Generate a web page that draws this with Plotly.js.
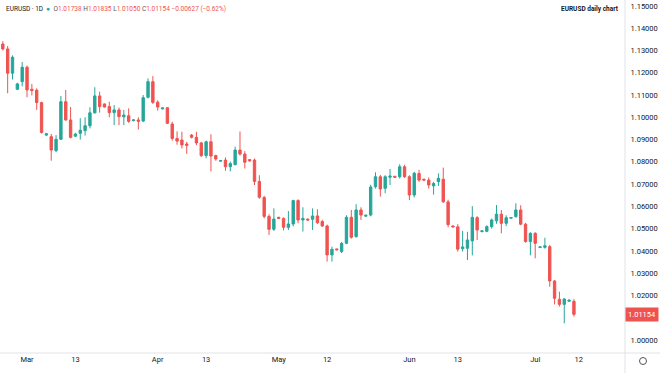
<!DOCTYPE html>
<html>
<head>
<meta charset="utf-8">
<script src="https://cdn.plot.ly/plotly-3.0.1.min.js"></script>
<style>
html,body{margin:0;padding:0;background:#fff;}
#chart{width:660px;height:373px;}
</style>
</head>
<body>
<div id="chart"></div>
<script>
const dates = ["2022-02-23","2022-02-24","2022-02-25","2022-02-27","2022-02-28",
"2022-03-01","2022-03-02","2022-03-03","2022-03-04","2022-03-06","2022-03-07","2022-03-08","2022-03-09","2022-03-10","2022-03-11",
"2022-03-13","2022-03-14","2022-03-15","2022-03-16","2022-03-17","2022-03-18","2022-03-20","2022-03-21","2022-03-22","2022-03-23",
"2022-03-24","2022-03-25","2022-03-27","2022-03-28","2022-03-29","2022-03-30","2022-03-31","2022-04-01","2022-04-03","2022-04-04",
"2022-04-05","2022-04-06","2022-04-07","2022-04-08","2022-04-10","2022-04-11","2022-04-12","2022-04-13","2022-04-14","2022-04-15",
"2022-04-17","2022-04-18","2022-04-19","2022-04-20","2022-04-21","2022-04-22","2022-04-24","2022-04-25","2022-04-26","2022-04-27",
"2022-04-28","2022-04-29","2022-05-01","2022-05-02","2022-05-03","2022-05-04","2022-05-05","2022-05-06","2022-05-08","2022-05-09",
"2022-05-10","2022-05-11","2022-05-12","2022-05-13","2022-05-15","2022-05-16","2022-05-17","2022-05-18","2022-05-19","2022-05-20",
"2022-05-22","2022-05-23","2022-05-24","2022-05-25","2022-05-26","2022-05-27","2022-05-29","2022-05-30","2022-05-31","2022-06-01",
"2022-06-02","2022-06-03","2022-06-05","2022-06-06","2022-06-07","2022-06-08","2022-06-09","2022-06-10","2022-06-12","2022-06-13",
"2022-06-14","2022-06-15","2022-06-16","2022-06-17","2022-06-19","2022-06-20","2022-06-21","2022-06-22","2022-06-23","2022-06-24",
"2022-06-26","2022-06-27","2022-06-28","2022-06-29","2022-06-30","2022-07-01","2022-07-03","2022-07-04","2022-07-05","2022-07-06",
"2022-07-07","2022-07-08","2022-07-10","2022-07-11"];

const open = [1.1329,1.1307,1.1198,1.1126,1.1160,
1.1225,1.1126,1.1122,1.1066,1.0920,1.0913,1.0850,1.0901,1.1070,1.0988,
1.0915,1.0928,1.0940,1.0962,1.1020,1.1096,1.1060,1.1048,1.1021,1.1033,
1.1002,1.1007,1.0985,1.0988,1.0983,1.1090,1.1160,1.1068,1.1038,1.1043,
1.0970,1.0905,1.0898,1.0880,1.0920,1.0910,1.0885,1.0828,1.0890,1.0828,
1.0803,1.0808,1.0778,1.0787,1.0853,1.0835,1.0810,1.0808,1.0712,1.0640,
1.0555,1.0497,1.0551,1.0546,1.0506,1.0521,1.0626,1.0539,1.0543,1.0542,
1.0557,1.0532,1.0512,1.0382,1.0409,1.0397,1.0434,1.0551,1.0464,1.0584,
1.0556,1.0561,1.0688,1.0733,1.0681,1.0731,1.0735,1.0733,1.0778,1.0733,
1.0651,1.0748,1.0722,1.0718,1.0692,1.0711,1.0722,1.0620,1.0512,1.0508,
1.0410,1.0412,1.0445,1.0549,1.0487,1.0488,1.0509,1.0535,1.0565,1.0524,
1.0547,1.0554,1.0584,1.0520,1.0442,1.0479,1.0415,1.0416,1.0419,1.0265,
1.0183,1.0160,1.0174,1.01738];

const high = [1.1342,1.1320,1.1278,1.1155,1.1248,
1.1232,1.1150,1.1130,1.1070,1.0930,1.0925,1.0920,1.1096,1.1123,1.1046,
1.0930,1.0996,1.1000,1.1045,1.1135,1.1115,1.1062,1.1070,1.1055,1.1044,
1.1033,1.1040,1.0992,1.1000,1.1100,1.1175,1.1185,1.1076,1.1045,1.1045,
1.0980,1.0937,1.0935,1.0890,1.0925,1.0935,1.0890,1.0895,1.0924,1.0832,
1.0808,1.0820,1.0801,1.0868,1.0936,1.0848,1.0812,1.0815,1.0740,1.0648,
1.0565,1.0591,1.0553,1.0550,1.0579,1.0630,1.0632,1.0596,1.0545,1.0591,
1.0587,1.0540,1.0518,1.0419,1.0410,1.0440,1.0560,1.0584,1.0610,1.0596,
1.0562,1.0697,1.0753,1.0741,1.0740,1.0768,1.0737,1.0789,1.0787,1.0740,
1.0755,1.0764,1.0724,1.0730,1.0710,1.0748,1.0774,1.0630,1.0515,1.0520,
1.0490,1.0486,1.0601,1.0556,1.0492,1.0515,1.0545,1.0606,1.0584,1.0560,
1.0552,1.0614,1.0605,1.0526,1.0484,1.0484,1.0420,1.0459,1.0427,1.0269,
1.0217,1.0188,1.0181,1.01835];

const low = [1.1300,1.1108,1.1170,1.1122,1.1139,
1.1090,1.1098,1.1033,1.0927,1.0915,1.0805,1.0843,1.0898,1.0985,1.0905,
1.0912,1.0900,1.0918,1.0950,1.1017,1.1021,1.1044,1.1000,1.0965,1.0965,
1.0965,1.0975,1.0982,1.0945,1.0978,1.1085,1.1060,1.1030,1.1035,1.0970,
1.0895,1.0877,1.0860,1.0836,1.0905,1.0875,1.0822,1.0816,1.0757,1.0805,
1.0800,1.0760,1.0757,1.0785,1.0828,1.0770,1.0800,1.0696,1.0634,1.0546,
1.0472,1.0490,1.0544,1.0492,1.0494,1.0510,1.0524,1.0487,1.0535,1.0494,
1.0521,1.0508,1.0352,1.0352,1.0403,1.0390,1.0430,1.0455,1.0460,1.0539,
1.0553,1.0555,1.0680,1.0644,1.0659,1.0696,1.0729,1.0725,1.0728,1.0628,
1.0640,1.0710,1.0715,1.0680,1.0653,1.0692,1.0615,1.0506,1.0505,1.0397,
1.0397,1.0359,1.0380,1.0449,1.0483,1.0484,1.0500,1.0522,1.0479,1.0511,
1.0545,1.0549,1.0515,1.0437,1.0380,1.0367,1.0413,1.0410,1.0239,1.0160,
1.0150,1.0075,1.0172,1.01050];

const close = [1.1307,1.1198,1.1270,1.1150,1.1225,
1.1123,1.1120,1.1066,1.0932,1.0926,1.0853,1.0901,1.1070,1.0988,1.0910,
1.0925,1.0942,1.0962,1.1020,1.1096,1.1048,1.1046,1.1021,1.1033,1.1003,
1.1010,1.0982,1.0988,1.0982,1.1088,1.1160,1.1067,1.1046,1.1042,1.0973,
1.0905,1.0893,1.0876,1.0874,1.0910,1.0885,1.0828,1.0890,1.0826,1.0813,
1.0806,1.0778,1.0792,1.0853,1.0835,1.0798,1.0805,1.0712,1.0641,1.0555,
1.0497,1.0543,1.0546,1.0506,1.0521,1.0626,1.0539,1.0546,1.0539,1.0557,
1.0527,1.0512,1.0382,1.0407,1.0405,1.0434,1.0551,1.0461,1.0584,1.0561,
1.0560,1.0687,1.0733,1.0678,1.0733,1.0736,1.0731,1.0778,1.0733,1.0651,
1.0749,1.0718,1.0718,1.0696,1.0703,1.0726,1.0621,1.0518,1.0508,1.0408,
1.0418,1.0449,1.0551,1.0494,1.0490,1.0509,1.0539,1.0565,1.0524,1.0549,
1.0550,1.0584,1.0520,1.0442,1.0479,1.0434,1.0418,1.0423,1.0265,1.0187,
1.0160,1.0184,1.0179,1.01154];

const tickDates = ["2022-03-01","2022-03-13","2022-04-01","2022-04-13","2022-05-01","2022-05-12","2022-06-01","2022-06-13","2022-07-01","2022-07-12"];
const tickText = ["Mar","13","Apr","13","May","12","Jun","13","Jul","12"];
// 1.01 is hidden behind the last-price label, as in the reference
const priceTicks = [1.00,1.02,1.03,1.04,1.05,1.06,1.07,1.08,1.09,1.10,1.11,1.12,1.13,1.14,1.15];

const symbol = "EURUSD";
const interval = "1D";
const chartTitle = "EURUSD daily chart";
const lastO = "1.01738", lastH = "1.01835", lastL = "1.01050", lastC = "1.01154";
const change = "−0.00627 (−0.62%)";
const lastPrice = 1.01154;

const UP = "#26a69a", DOWN = "#ef5350";
const FONT = "Roboto, 'Open Sans', sans-serif";

const trace = {
  type: "candlestick",
  x: dates, open: open, high: high, low: low, close: close,
  increasing: {line: {color: UP, width: 1}, fillcolor: UP},
  decreasing: {line: {color: DOWN, width: 1}, fillcolor: DOWN},
  whiskerwidth: 0,
  hoverinfo: "skip"
};

const header = symbol + " · " + interval +
  "  <span style='color:" + UP + "'>●</span>  " +
  "<span style='color:#555'>O</span><span style='color:" + DOWN + "'>" + lastO + "</span> " +
  "<span style='color:#555'>H</span><span style='color:" + DOWN + "'>" + lastH + "</span> " +
  "<span style='color:#555'>L</span><span style='color:" + DOWN + "'>" + lastL + "</span> " +
  "<span style='color:#555'>C</span><span style='color:" + DOWN + "'>" + lastC + "</span> " +
  "<span style='color:" + DOWN + "'>" + change + "</span>";

const layout = {
  width: 660, height: 373,
  margin: {l: 0, r: 35, t: 0, b: 20},
  paper_bgcolor: "#ffffff", plot_bgcolor: "#ffffff",
  showlegend: false,
  font: {family: FONT, size: 7.5, color: "#131722"},
  xaxis: {
    type: "date",
    range: ["2022-02-22 10:00", "2022-07-22 13:12"],
    rangebreaks: [{bounds: ["sat", "sun"]}],
    rangeslider: {visible: false},
    tickmode: "array", tickvals: tickDates, ticktext: tickText,
    showgrid: false, zeroline: false, showline: false,
    ticks: "", tickfont: {size: 7.5, color: "#131722"},
    fixedrange: true
  },
  yaxis: {
    side: "right",
    range: [0.99416, 1.15267],
    tickmode: "array", tickvals: priceTicks,
    tickformat: ".5f",
    showgrid: false, zeroline: false, showline: false,
    ticks: "outside", ticklen: 3, tickcolor: "rgba(0,0,0,0)",
    tickfont: {size: 7.5, color: "#131722"},
    fixedrange: true
  },
  shapes: [
    {type: "line", xref: "paper", yref: "paper", x0: 1, x1: 1, y0: -20/353, y1: 1, line: {color: "#e0e3eb", width: 1}},
    {type: "line", xref: "paper", yref: "paper", x0: 0, x1: 660/625, y0: 0, y1: 0, line: {color: "#e0e3eb", width: 1}},
    {type: "circle", xref: "paper", yref: "paper", x0: 639.5/625, x1: 646.5/625, y0: -11.5/353, y1: -4.5/353, line: {color: "#555", width: 1}}
  ],
  annotations: [
    {xref: "paper", yref: "paper", x: 4/625, y: 1 - 9/353, xanchor: "left", yanchor: "middle",
     text: header, showarrow: false, font: {size: 6.5, color: "#131722"}},
    {xref: "paper", yref: "paper", x: 621/625, y: 1 - 9.5/353, xanchor: "right", yanchor: "middle",
     text: "<b>" + chartTitle + "</b>", showarrow: false, font: {size: 6.5, color: "#131722"}},
    {xref: "paper", yref: "y", x: 1, y: lastPrice, xanchor: "left", yanchor: "middle",
     text: lastPrice.toFixed(5), showarrow: false, bgcolor: DOWN, borderpad: 2,
     font: {size: 7.5, color: "#ffffff"}}
  ]
};

Plotly.newPlot("chart", [trace], layout, {displayModeBar: false, staticPlot: true});
</script>
</body>
</html>
